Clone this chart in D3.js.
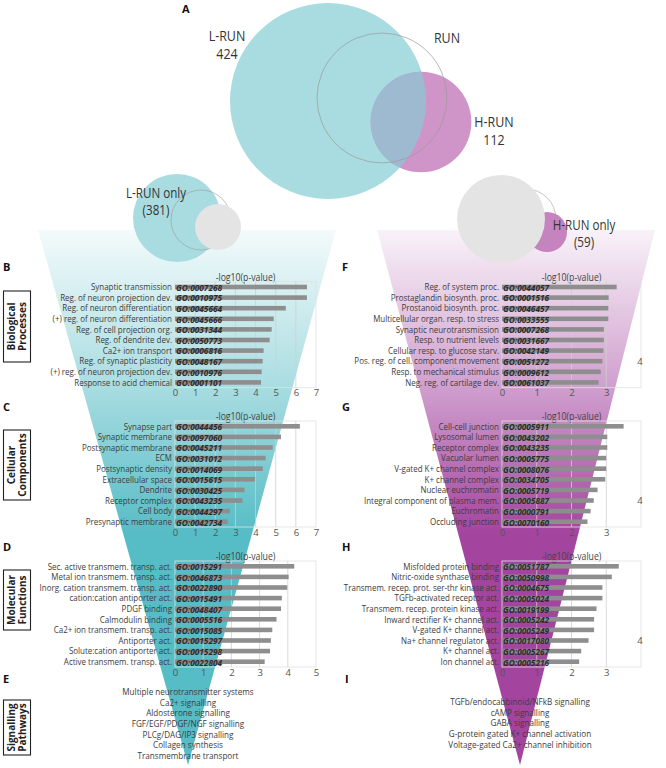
<!DOCTYPE html>
<html>
<head>
<meta charset="utf-8">
<script src="https://cdn.jsdelivr.net/npm/d3@7"></script>
<style>
  body { margin: 0; background: #fff; }
  svg text { font-family: "Open Sans", sans-serif; }
</style>
</head>
<body>
<svg id="fig" width="666" height="768"></svg>
<script>
// ---- data ----
const vennNames = ['L-RUN', 'H-RUN'];
const vennCounts = [424, 112];
const onlyNames = ['L-RUN only', 'H-RUN only'];
const onlyCounts = [381, 59];

const lrunBpTerms = ['Synaptic transmission', 'Reg. of neuron projection dev.', 'Reg. of neuron differentiation',
  '(+) reg. of neuron differentiation', 'Reg. of cell projection org.', 'Reg. of dendrite dev.',
  'Ca2+ ion transport', 'Reg. of synaptic plasticity', '(+) reg. of neuron projection dev.', 'Response to acid chemical'];
const lrunBpIds = ['GO:0007268', 'GO:0010975', 'GO:0045664', 'GO:0045666', 'GO:0031344',
  'GO:0050773', 'GO:0006816', 'GO:0048167', 'GO:0010976', 'GO:0001101'];
const lrunBpScores = [6.55, 6.55, 5.5, 4.9, 4.8, 4.7, 4.4, 4.35, 4.3, 4.27];

const lrunCcTerms = ['Synapse part', 'Synaptic membrane', 'Postsynaptic membrane', 'ECM', 'Postsynaptic density',
  'Extracellular space', 'Dendrite', 'Receptor complex', 'Cell body', 'Presynaptic membrane'];
const lrunCcIds = ['GO:0044456', 'GO:0097060', 'GO:0045211', 'GO:0031012', 'GO:0014069',
  'GO:0015615', 'GO:0030425', 'GO:0043235', 'GO:0044297', 'GO:0042734'];
const lrunCcScores = [6.2, 5.26, 4.85, 4.5, 4.36, 3.97, 3.45, 3.35, 2.73, 2.62];

const lrunMfTerms = ['Sec. active transmem. transp. act.', 'Metal ion transmem. transp. act.',
  'Inorg. cation transmem. transp. act.', 'cation:cation antiporter act.', 'PDGF binding', 'Calmodulin binding',
  'Ca2+ ion transmem. transp. act.', 'Antiporter act.', 'Solute:cation antiporter act.', 'Active transmem. transp. act.'];
const lrunMfIds = ['GO:0015291', 'GO:0046873', 'GO:0022890', 'GO:0015491', 'GO:0048407',
  'GO:0005516', 'GO:0015085', 'GO:0015297', 'GO:0015298', 'GO:0022804'];
const lrunMfScores = [4.23, 4.03, 3.98, 3.79, 3.76, 3.6, 3.45, 3.4, 3.37, 3.18];

const lrunPathways = ['Multiple neurotransmitter systems', 'Ca2+ signalling', 'Aldosterone signalling',
  'FGF/EGF/PDGF/NGF signalling', 'PLCg/DAG/IP3 signalling', 'Collagen synthesis', 'Transmembrane transport'];

const hrunBpTerms = ['Reg. of system proc.', 'Prostaglandin biosynth. proc.', 'Prostanoid biosynth. proc.',
  'Multicellular organ. resp. to stress', 'Synaptic neurotransmission', 'Resp. to nutrient levels',
  'Cellular resp. to glucose starv.', 'Pos. reg. of cell. component movement', 'Resp. to mechanical stimulus',
  'Neg. reg. of cartilage dev.'];
const hrunBpIds = ['GO:0044057', 'GO:0001516', 'GO:0046457', 'GO:0033555', 'GO:0007268',
  'GO:0031667', 'GO:0042149', 'GO:0051272', 'GO:0009612', 'GO:0061037'];
const hrunBpScores = [3.3, 3.07, 3.06, 3.06, 2.93, 2.93, 2.92, 2.89, 2.84, 2.78];

const hrunCcTerms = ['Cell-cell junction', 'Lysosomal lumen', 'Receptor complex', 'Vacuolar lumen',
  'V-gated K+ channel complex', 'K+ channel complex', 'Nuclear euchromatin', 'Integral component of plasma mem.',
  'Euchromatin', 'Occluding junction'];
const hrunCcIds = ['GO:0005911', 'GO:0043202', 'GO:0043235', 'GO:0005775', 'GO:0008076',
  'GO:0034705', 'GO:0005719', 'GO:0005887', 'GO:0000791', 'GO:0070160'];
const hrunCcScores = [3.5, 3.03, 3.03, 3.0, 3.0, 2.97, 2.75, 2.64, 2.55, 2.46];

const hrunMfTerms = ['Misfolded protein binding', 'Nitric-oxide synthase binding',
  'Transmem. recep. prot. ser-thr kinase act.', 'TGFb-activated receptor act.', 'Transmem. recep. protein kinase act.',
  'Inward rectifier K+ channel act.', 'V-gated K+ channel act.', 'Na+ channel regulator act.', 'K+ channel act.',
  'Ion channel act.'];
const hrunMfIds = ['GO:0051787', 'GO:0050998', 'GO:0004675', 'GO:0005024', 'GO:0019199',
  'GO:0005242', 'GO:0005249', 'GO:0017080', 'GO:0005267', 'GO:0005216'];
const hrunMfScores = [3.36, 3.16, 2.89, 2.89, 2.72, 2.65, 2.65, 2.49, 2.28, 2.22];

const hrunPathways = ['TGFb/endocabbinoid/NFkB signalling', 'cAMP signalling', 'GABA signalling',
  'G-protein gated K+ channel activation', 'Voltage-gated Ca2+ channel inhibition'];

const categoryBoxes = [['Biological', 'Processes'], ['Cellular', 'Components'],
  ['Molecular', 'Functions'], ['Signalling', 'Pathways']];

// ---- styling / layout ----
const TEAL = '#56bcc5', MAGENTA = '#a3449f';
const ROW = 10.6;
const SX = 0.83;   // squeeze Open Sans towards a condensed Myriad look
const svg = d3.select('#fig');
const defs = svg.append('defs');
const at = (x, y) => `translate(${x},${y}) scale(${SX},1)`;

// Funnels behind everything.
function funnel(id, color, pts) {
  const g = defs.append('linearGradient').attr('id', id)
    .attr('gradientUnits', 'userSpaceOnUse').attr('x1', 0).attr('x2', 0).attr('y1', 230).attr('y2', 535);
  g.append('stop').attr('offset', 0).attr('stop-color', color).attr('stop-opacity', 0.07);
  g.append('stop').attr('offset', 0.5).attr('stop-color', color).attr('stop-opacity', 0.5);
  g.append('stop').attr('offset', 1).attr('stop-color', color).attr('stop-opacity', 1);
  svg.append('polygon').attr('points', pts.map(p => p.join(',')).join(' ')).attr('fill', `url(#${id})`);
}
funnel('tealFade', TEAL, [[38, 230], [336, 230], [188, 765]]);
funnel('magFade', MAGENTA, [[377, 230], [655, 230], [520, 765]]);

// ---- Venn A ----
const rScale = d3.scaleSqrt().domain([0, 424]).range([0, 98]);
const venn = svg.append('g');
const lr = rScale(vennCounts[0]), hr = rScale(vennCounts[1]);
defs.append('clipPath').attr('id', 'lclip').append('circle').attr('cx', 328).attr('cy', 101).attr('r', lr);
venn.append('circle').attr('cx', 328).attr('cy', 101).attr('r', lr).attr('fill', '#a9dce0');
venn.append('circle').attr('cx', 421).attr('cy', 122).attr('r', hr).attr('fill', '#cf95c9');
venn.append('circle').attr('cx', 421).attr('cy', 122).attr('r', hr).attr('fill', '#9dbad1')
  .attr('clip-path', 'url(#lclip)');
venn.append('circle').attr('cx', 382).attr('cy', 98).attr('r', 65)
  .attr('fill', 'none').attr('stroke', '#9a9a9a').attr('stroke-width', 0.7);

const vennText = (x, y, t, size) => svg.append('text').attr('transform', at(x, y))
  .attr('text-anchor', 'middle').attr('dominant-baseline', 'central')
  .attr('font-size', size).attr('fill', '#333').text(t);
vennText(227, 35, vennNames[0], 15); vennText(227, 53, vennCounts[0], 15);
vennText(447, 37, 'RUN', 15);
vennText(494, 121, vennNames[1], 15); vennText(494, 139, vennCounts[1], 15);

// small "only" Venns
venn.append('circle').attr('cx', 177).attr('cy', 218).attr('r', 44).attr('fill', '#a9dce0');
venn.append('circle').attr('cx', 201).attr('cy', 220).attr('r', 30)
  .attr('fill', 'none').attr('stroke', '#9a9a9a').attr('stroke-width', 0.6);
venn.append('circle').attr('cx', 218).attr('cy', 227).attr('r', 23).attr('fill', '#e3e4e3');

venn.append('circle').attr('cx', 547).attr('cy', 232).attr('r', 20).attr('fill', '#c683c0');
venn.append('circle').attr('cx', 526).attr('cy', 219).attr('r', 30)
  .attr('fill', 'none').attr('stroke', '#9a9a9a').attr('stroke-width', 0.6);
venn.append('circle').attr('cx', 501).attr('cy', 219).attr('r', 44).attr('fill', '#e3e4e3');

vennText(156, 193, onlyNames[0], 14); vennText(156, 210, `(${onlyCounts[0]})`, 14);
vennText(584, 225, onlyNames[1], 14); vennText(584, 242, `(${onlyCounts[1]})`, 14);

// ---- panel letters ----
const letter = (x, y, t) => svg.append('text').attr('x', x).attr('y', y)
  .attr('dominant-baseline', 'central').attr('font-family', 'Liberation Sans, Arial, sans-serif')
  .attr('font-weight', 'bold').attr('font-size', 11).attr('fill', '#111').text(t);
letter(182, 8, 'A');

// ---- bar panels ----
function barPanel(o) {
  const g = svg.append('g');
  const x = d3.scaleLinear().domain([0, o.xMax]).range([o.x0, o.x1]);
  const y = d3.scaleBand().domain(d3.range(o.terms.length)).range([o.top, o.top + ROW * o.terms.length]);
  const bottom = o.top + ROW * o.terms.length;
  const mid = i => y(i) + ROW / 2;

  letter(o.letterX, o.top - 15, o.letter);
  g.append('text').attr('transform', at((o.x0 + o.x1) / 2, o.top - 5))
    .attr('text-anchor', 'middle').attr('dominant-baseline', 'central')
    .attr('font-size', 10.5).attr('fill', '#444').text('-log10(p-value)');

  g.append('rect').attr('x', o.x0).attr('y', o.top).attr('width', o.x1 - o.x0).attr('height', bottom - o.top)
    .attr('fill', 'none').attr('stroke', '#e2e2e2').attr('stroke-width', 0.8);
  g.append('g').selectAll('line').data(d3.range(1, o.xMax)).join('line')
    .attr('x1', d => x(d)).attr('x2', d => x(d)).attr('y1', o.top).attr('y2', bottom)
    .attr('stroke', '#cfcfcf').attr('stroke-width', 0.8);

  g.append('g').selectAll('rect').data(o.scores).join('rect')
    .attr('x', x(0)).attr('y', (d, i) => mid(i) - 2.3)
    .attr('width', d => x(d) - x(0)).attr('height', 4.6).attr('fill', '#8e8e8e');

  g.append('g').selectAll('text').data(o.terms).join('text')
    .attr('transform', (d, i) => at(o.x0 - 3, mid(i))).attr('text-anchor', 'end')
    .attr('dominant-baseline', 'central').attr('font-size', 9.6).attr('fill', '#3c3c3c').text(d => d);
  g.append('g').selectAll('text').data(o.ids).join('text')
    .attr('x', o.x0 + 1).attr('y', (d, i) => mid(i) + 0.3)
    .attr('dominant-baseline', 'central').attr('font-family', 'Liberation Sans, Arial, sans-serif')
    .attr('font-size', 8.3).attr('font-weight', 'bold').attr('font-style', 'italic')
    .attr('fill', '#2b2b2b').text(d => d);

  const axis = g.append('g').attr('transform', `translate(0,${bottom})`)
    .call(d3.axisBottom(x).tickValues(o.tickVals).tickFormat(d3.format('d')).tickSize(0).tickPadding(2));
  axis.select('.domain').remove();
  axis.selectAll('text').attr('font-size', 9.5).attr('fill', '#555')
    .attr('font-family', '"Open Sans", sans-serif');

  if (o.stray) {
    g.append('text').attr('x', x(o.xMax) - 1).attr('y', mid(7)).attr('text-anchor', 'middle')
      .attr('dominant-baseline', 'central').attr('font-size', 9.5).attr('fill', '#555').text(o.xMax);
  }
}

const panelTops = [281.7, 421, 561];
const left = { x0: 175, x1: 316, letterX: 3 };
const right = { x0: 502, x1: 641, letterX: 342 };

barPanel({ ...left, top: panelTops[0], letter: 'B', terms: lrunBpTerms, ids: lrunBpIds, scores: lrunBpScores,
  xMax: 7, tickVals: d3.range(0, 8) });
barPanel({ ...left, top: panelTops[1], letter: 'C', terms: lrunCcTerms, ids: lrunCcIds, scores: lrunCcScores,
  xMax: 7, tickVals: d3.range(0, 8) });
barPanel({ ...left, top: panelTops[2], letter: 'D', terms: lrunMfTerms, ids: lrunMfIds, scores: lrunMfScores,
  xMax: 5, tickVals: d3.range(0, 6) });
barPanel({ ...right, top: panelTops[0], letter: 'F', terms: hrunBpTerms, ids: hrunBpIds, scores: hrunBpScores,
  xMax: 4, tickVals: d3.range(0, 4), stray: true });
barPanel({ ...right, top: panelTops[1], letter: 'G', terms: hrunCcTerms, ids: hrunCcIds, scores: hrunCcScores,
  xMax: 4, tickVals: d3.range(0, 4), stray: true });
barPanel({ ...right, top: panelTops[2], letter: 'H', terms: hrunMfTerms, ids: hrunMfIds, scores: hrunMfScores,
  xMax: 4, tickVals: d3.range(0, 4), stray: true });

// ---- signalling pathways ----
letter(3, 678, 'E');
letter(345, 678, 'I');
function pathwayList(items, cx, y0) {
  svg.append('g').selectAll('text').data(items).join('text')
    .attr('transform', (d, i) => at(cx, y0 + i * 10.7)).attr('text-anchor', 'middle')
    .attr('dominant-baseline', 'central').attr('font-size', 9.8).attr('fill', '#3c3c3c').text(d => d);
}
pathwayList(lrunPathways, 188, 691);
pathwayList(hrunPathways, 520, 701);

// ---- category boxes (left strip) ----
const boxSpans = [[291, 362], [430, 500], [570, 630], [700, 755]];
categoryBoxes.forEach((lines, i) => {
  const [y0, y1] = boxSpans[i];
  svg.append('rect').attr('x', 3.5).attr('y', y0).attr('width', 27).attr('height', y1 - y0)
    .attr('fill', '#fff').attr('stroke', '#222').attr('stroke-width', 1.1);
  const t = svg.append('text').attr('transform', `translate(17,${(y0 + y1) / 2}) rotate(-90)`)
    .attr('text-anchor', 'middle').attr('font-family', '"Open Sans", sans-serif')
    .attr('font-weight', 'bold').attr('font-size', 10).attr('fill', '#222');
  lines.forEach((l, k) => t.append('tspan').attr('x', 0).attr('y', k === 0 ? -2 : 9).text(l));
});
</script>
</body>
</html>
